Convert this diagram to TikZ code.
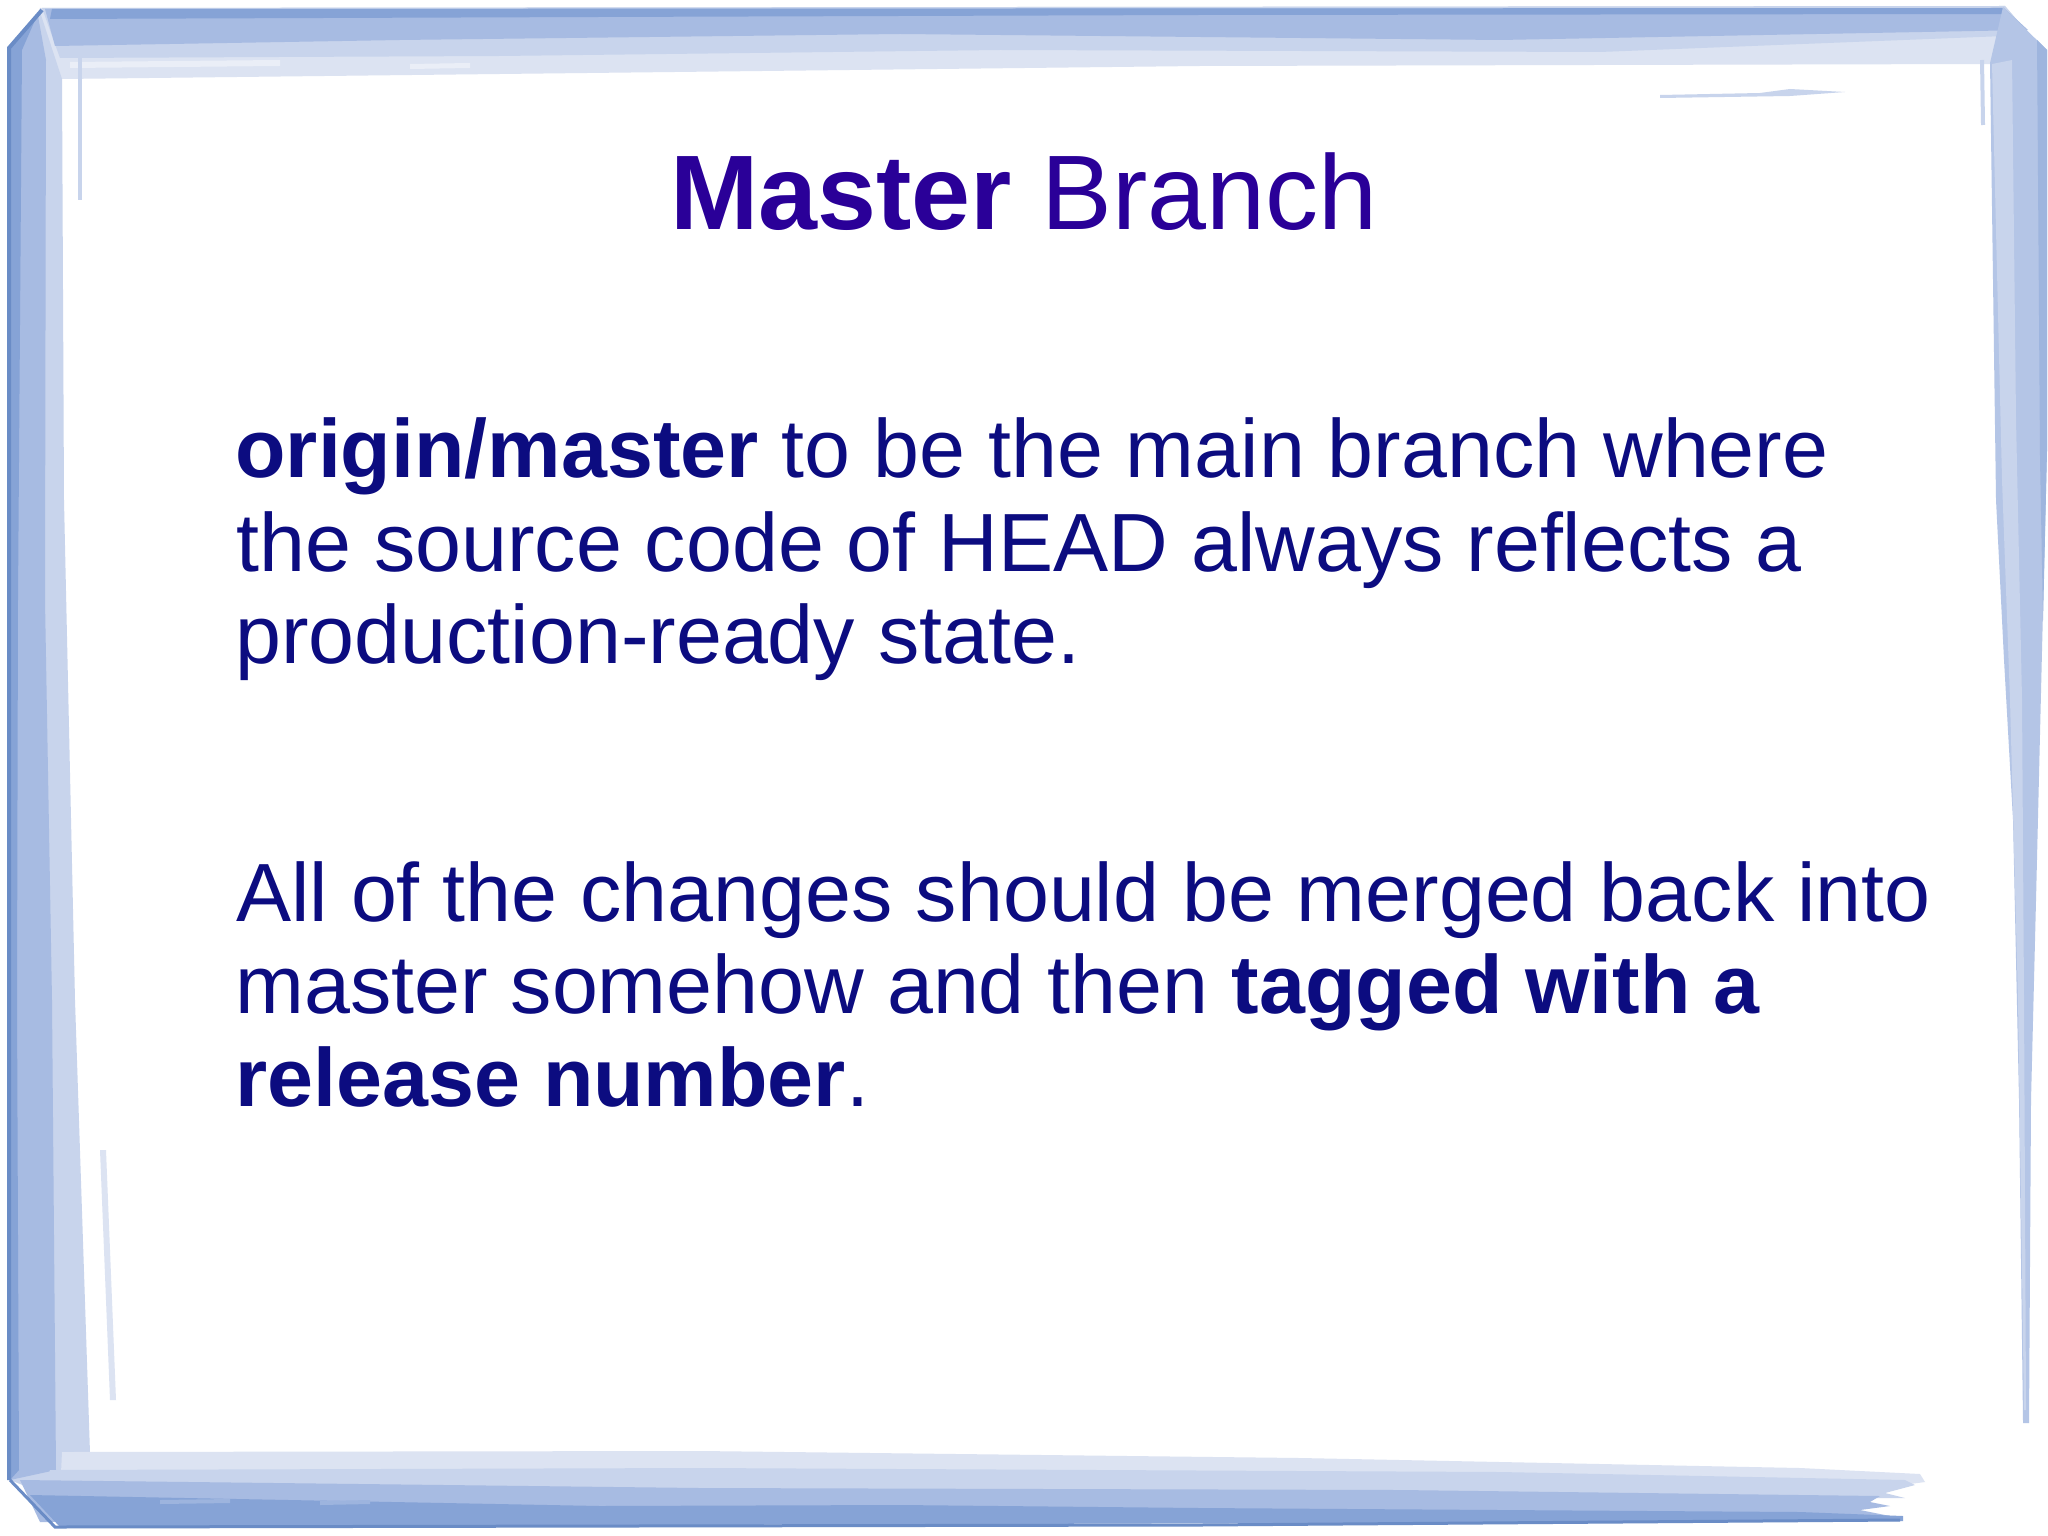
\documentclass[tikz,border=0pt]{standalone}
\usepackage{fontspec}
\setmainfont{Liberation Sans}
\definecolor{titlecol}{HTML}{2A0098}
\definecolor{bodycol}{HTML}{0C0C80}
\definecolor{frlightest}{HTML}{DCE3F2}
\definecolor{frlight}{HTML}{C8D4EC}
\definecolor{frmid}{HTML}{A7BBE2}
\definecolor{frdark}{HTML}{86A3D6}
\definecolor{fredge}{HTML}{6A8CC6}
\tikzset{
  titletext/.style={inner sep=0pt, anchor=base, text=titlecol, font=\fontsize{53pt}{60pt}\selectfont},
  bodytext/.style={inner sep=0pt, anchor=base west, text=bodycol, font=\fontsize{41.3pt}{46.5pt}\selectfont},
}
\begin{document}
\begin{tikzpicture}[x=0.5pt,y=-0.5pt]
\useasboundingbox (0,0) rectangle (2048,1535);
\fill[white] (0,0) rectangle (2048,1535);

% ---------- top stroke ----------
\fill[frlightest] (40,8) -- (2005,6) -- (2025,30) -- (1992,64) -- (1200,66) -- (500,74) -- (62,79) -- (30,40) -- cycle;
\fill[frlight] (42,8) -- (2005,6) -- (2030,35) -- (1600,52) -- (1000,50) -- (500,56) -- (60,58) -- cycle;
\fill[frmid] (45,9) -- (2004,8) -- (2028,30) -- (1500,40) -- (900,34) -- (400,40) -- (55,46) -- cycle;
\fill[frdark] (52,9) -- (2002,8) -- (2010,14) -- (1200,15) -- (600,17) -- (50,19) -- cycle;
\fill[frlightest!60!white] (70,62) -- (280,60) -- (280,66) -- (70,68) -- cycle;
\fill[frlightest!60!white] (410,64) -- (470,63) -- (470,68) -- (410,69) -- cycle;
% faint streak top right
\fill[frlight] (1660,95) -- (1760,93) -- (1790,89) -- (1845,92) -- (1790,96) -- (1660,98) -- cycle;
\draw[frlight, line width=2pt] (1982,60) -- (1983,125);

% ---------- right stroke ----------
\fill[frmid!85!white] (2003,7) -- (2047,50) -- (2047,450) -- (2042,650) -- (2036,900) -- (2031,1100) -- (2029,1423) -- (2023,1423) -- (2019,1100) -- (2013,820) -- (2004,660) -- (1996,500) -- (1990,63) -- cycle;
\fill[frlight] (1992,64) -- (2012,60) -- (2016,420) -- (2022,700) -- (2024,1000) -- (2026,1410) -- (2024,1410) -- (2018,1000) -- (2010,700) -- (2002,480) -- cycle;
\fill[frdark!80!white] (2037,40) -- (2047,50) -- (2047,450) -- (2043,620) -- (2040,460) -- cycle;

% ---------- left stroke ----------
\fill[frlight] (9,48) -- (40,12) -- (62,79) -- (64,500) -- (75,1000) -- (90,1453) -- (60,1500) -- (10,1480) -- cycle;
\fill[frmid] (9,48) -- (38,16) -- (46,60) -- (45,600) -- (52,1000) -- (56,1470) -- (10,1480) -- cycle;
\fill[frdark] (9,48) -- (36,18) -- (22,50) -- (18,600) -- (17,1000) -- (19,1470) -- (10,1480) -- cycle;
\draw[fredge, line width=2pt] (9,1480) -- (9,48) -- (42,10);
\draw[frlight, line width=2pt] (80,50) -- (80,200);
\fill[frlightest] (100,1150) -- (106,1150) -- (116,1400) -- (110,1400) -- cycle;

% ---------- bottom stroke ----------
\fill[frlightest] (62,1452) -- (700,1451) -- (1300,1458) -- (1800,1468) -- (1920,1474) -- (1925,1482) -- (1880,1488) -- (60,1495) -- cycle;
\fill[frlight] (50,1470) -- (700,1468) -- (1500,1472) -- (1905,1480) -- (1915,1485) -- (1885,1493) -- (1905,1498) -- (40,1505) -- cycle;
\fill[frmid] (20,1480) -- (700,1488) -- (1400,1490) -- (1880,1496) -- (1870,1502) -- (1890,1506) -- (1860,1510) -- (1900,1518) -- (40,1522) -- cycle;
\fill[frdark] (30,1495) -- (600,1506) -- (900,1505) -- (1200,1508) -- (1800,1512) -- (1903,1516) -- (1903,1521) -- (1300,1523) -- (60,1527) -- cycle;
\draw[fredge, line width=1.5pt] (10,1480) -- (55,1527) -- (1200,1525) -- (1900,1520);
\fill[frmid!70!frdark] (160,1500) -- (230,1499) -- (230,1503) -- (160,1504) -- cycle;
\fill[frmid!70!frdark] (320,1501) -- (370,1500) -- (370,1504) -- (320,1505) -- cycle;

% ---------- texts ----------
\node[titletext] (title) at (1024,230) {\textbf{Master} Branch};

\node[bodytext] (p1a) at (235,477) {\textbf{origin/master} to be the main branch where};
\node[bodytext] (p1b) at (236,571) {the source code of HEAD always reflects a};
\node[bodytext] (p1c) at (235,663) {production-ready state.};

\node[bodytext] (p2a) at (236,921) {All of the changes should be merged back into};
\node[bodytext] (p2b) at (235,1013) {master somehow and then \textbf{tagged with a}};
\node[bodytext] (p2c) at (235,1106) {\textbf{release number}.};
\end{tikzpicture}
\end{document}
